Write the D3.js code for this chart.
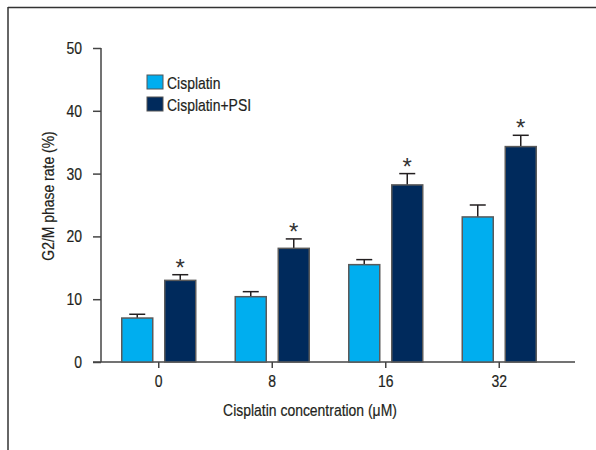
<!DOCTYPE html>
<html>
<head>
<meta charset="utf-8">
<script src="https://cdn.jsdelivr.net/npm/d3@7"></script>
<style>
  html, body { margin: 0; padding: 0; background: #fff; }
  svg text { font-family: "Liberation Sans", Arial, sans-serif; fill: #231f20; stroke: #231f20; stroke-width: 0.2px; }
  svg text.star { stroke: none; fill: #333; }
</style>
</head>
<body>
<svg id="chart" width="596" height="450"></svg>
<script>
// G2/M phase rate by cisplatin concentration, with and without PSI
const concentrations = ["0", "8", "16", "32"];
const seriesNames = ["Cisplatin", "Cisplatin+PSI"];
const cisplatin = [7.0, 10.4, 15.5, 23.1];
const cisplatinErr = [0.6, 0.8, 0.8, 1.9];
const cisplatinPsi = [13.0, 18.1, 28.2, 34.3];
const cisplatinPsiErr = [0.9, 1.5, 1.8, 1.8];
const significant = [true, true, true, true];
const yTicks = [0, 10, 20, 30, 40, 50];

const colors = ["#00aeef", "#002a5c"];
const CONDENSE = 0.82;
const FONT = 17;

// narrow the glyphs of a text selection while keeping its anchor
function condense(sel, k = CONDENSE) {
  sel.each(function () {
    const w = this.getComputedTextLength();
    d3.select(this).attr("textLength", w * k).attr("lengthAdjust", "spacingAndGlyphs");
  });
}

const svg = d3.select("#chart");

// frame lines along top and left
svg.append("line").attr("x1", 8).attr("x2", 596).attr("y1", 7.5).attr("y2", 7.5)
  .attr("stroke", "#333").attr("stroke-width", 1.5);
svg.append("line").attr("x1", 8).attr("x2", 8).attr("y1", 7).attr("y2", 450)
  .attr("stroke", "#333").attr("stroke-width", 1.5);

const plot = { left: 101, right: 575, top: 48, bottom: 362 };

const x = d3.scaleBand().domain(concentrations)
  .range([102, 556]).paddingInner(0).paddingOuter(0);
const y = d3.scaleLinear().domain([0, 50]).range([plot.bottom, plot.top]);

const barW = 31, gap = 12;

// axes
const yAxis = d3.axisLeft(y).tickValues(yTicks).tickSize(8).tickPadding(11);
const gy = svg.append("g").attr("transform", `translate(${plot.left},0)`).call(yAxis);
gy.select(".domain").remove();
svg.append("line").attr("x1", plot.left).attr("x2", plot.left)
  .attr("y1", plot.top).attr("y2", plot.bottom).attr("stroke", "#444").attr("stroke-width", 1.5);
gy.selectAll(".tick line").attr("stroke", "#444").attr("stroke-width", 1.5);
gy.selectAll(".tick text").attr("font-size", FONT).attr("font-family", null).attr("fill", null).call(condense);

const xAxis = d3.axisBottom(x).tickSize(6).tickPadding(7);
const gx = svg.append("g").attr("transform", `translate(0,${plot.bottom})`).call(xAxis);
gx.select(".domain").remove();
svg.append("line").attr("x1", plot.left - 8).attr("x2", plot.right)
  .attr("y1", plot.bottom).attr("y2", plot.bottom).attr("stroke", "#444").attr("stroke-width", 1.5);
gx.selectAll(".tick line").attr("stroke", "#444").attr("stroke-width", 1.5);
gx.selectAll(".tick text").attr("font-size", FONT).attr("font-family", null).attr("fill", null).call(condense);

// axis titles
svg.append("text")
  .attr("transform", "translate(54,196) rotate(-90)")
  .attr("text-anchor", "middle").attr("font-size", FONT)
  .text("G2/M phase rate (%)").call(condense);
svg.append("text")
  .attr("x", 310).attr("y", 416).attr("text-anchor", "middle").attr("font-size", FONT)
  .text("Cisplatin concentration (μM)").call(condense);

// bars
const groups = [
  { values: cisplatin, errs: cisplatinErr, offset: -gap / 2 - barW, color: colors[0] },
  { values: cisplatinPsi, errs: cisplatinPsiErr, offset: gap / 2, color: colors[1] }
];

groups.forEach((g, gi) => {
  const data = concentrations.map((c, i) => ({ c, v: g.values[i], e: g.errs[i], sig: significant[i] }));
  const cx = d => x(d.c) + x.bandwidth() / 2 + g.offset;
  const layer = svg.append("g");
  // error bars
  layer.selectAll("line.err").data(data).join("line")
    .attr("x1", d => cx(d) + barW / 2).attr("x2", d => cx(d) + barW / 2)
    .attr("y1", d => y(d.v)).attr("y2", d => y(d.v + d.e))
    .attr("stroke", "#231f20").attr("stroke-width", 1.5);
  layer.selectAll("line.cap").data(data).join("line")
    .attr("x1", d => cx(d) + barW / 2 - 8).attr("x2", d => cx(d) + barW / 2 + 8)
    .attr("y1", d => y(d.v + d.e)).attr("y2", d => y(d.v + d.e))
    .attr("stroke", "#231f20").attr("stroke-width", 1.5);
  layer.selectAll("rect").data(data).join("rect")
    .attr("x", d => cx(d)).attr("width", barW)
    .attr("y", d => y(d.v)).attr("height", d => y(0) - y(d.v))
    .attr("fill", g.color).attr("stroke", "#5a5a5a").attr("stroke-width", 1.5);
  if (gi === 1) {
    // significance markers above the error caps
    layer.selectAll("text.star").data(data.filter(d => d.sig)).join("text")
      .attr("class", "star")
      .attr("x", d => cx(d) + barW / 2).attr("y", d => y(d.v + d.e) + 1)
      .attr("text-anchor", "middle").attr("font-size", 24)
      .text("*");
  }
});

// legend
const legend = svg.append("g").attr("transform", "translate(147,75)");
seriesNames.forEach((name, i) => {
  const row = legend.append("g").attr("transform", `translate(0,${i * 22})`);
  row.append("rect").attr("width", 16).attr("height", 14)
    .attr("fill", colors[i]).attr("stroke", "#555").attr("stroke-width", 1);
  row.append("text").attr("x", 20).attr("y", 14).attr("font-size", FONT).text(name).call(condense);
});
</script>
</body>
</html>
